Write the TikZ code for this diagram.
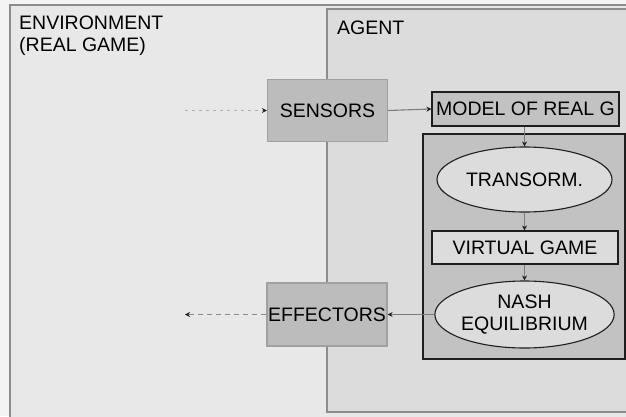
\documentclass[tikz,border=0pt]{standalone}
\usepackage{fontspec}
\setmainfont{Liberation Sans}
\usetikzlibrary{arrows.meta,shapes.geometric}

\definecolor{pagebg}{HTML}{F4F4F4}
\definecolor{envfill}{HTML}{E8E8E8}
\definecolor{agentfill}{HTML}{DCDCDC}
\definecolor{frameline}{HTML}{8C8C8C}
\definecolor{ioFill}{HTML}{BCBCBC}
\definecolor{ioLine}{HTML}{A0A0A0}
\definecolor{coreFill}{HTML}{C2C2C2}
\definecolor{lightFill}{HTML}{DCDCDC}
\definecolor{darkLine}{HTML}{1E1E1E}
\definecolor{linkLine}{HTML}{7C7C7C}

\tikzset{
  x=1pt, y=-1pt,
  every node/.style={font=\fontsize{19.5}{22}\selectfont, text=black, inner sep=0pt},
  iobox/.style={draw=ioLine, line width=1.2pt, fill=ioFill, minimum width=120pt, minimum height=62pt},
  framebox/.style={draw=darkLine, line width=1.2pt, fill=coreFill},
  litebox/.style={draw=darkLine, line width=1.1pt, fill=lightFill, minimum width=186pt, minimum height=33pt},
  oval/.style={ellipse, draw=darkLine, line width=1.1pt, fill=lightFill, minimum width=175pt, align=center},
  dottip/.style={-{Stealth[length=5pt,width=5pt,color=darkLine]}},
  link/.style={draw=linkLine, line width=1.1pt, dottip},
  inlink/.style={draw=ioLine!85!white, line width=1.1pt, dash pattern=on 3pt off 4pt, dottip},
  outlink/.style={draw=linkLine!90!white, line width=1.2pt, dash pattern=on 5pt off 4pt, dottip}
}

\begin{document}
\begin{tikzpicture}
  \useasboundingbox (0,0) rectangle (626,416);
  \fill[pagebg] (0,0) rectangle (626,416);

  % environment and agent panels
  \draw[fill=envfill, draw=frameline, line width=1.5pt] (10,5) rectangle (650,440);
  \draw[fill=agentfill, draw=frameline, line width=1.5pt] (327,9) rectangle (650,412);

  \node[anchor=north west, align=left] (envlabel) at (19,16) {ENVIRONMENT\\(REAL GAME)};
  \node[anchor=north west] (agentlabel) at (337,20.5) {AGENT};

  % sensing and acting units
  \node[iobox] (sensors) at (327.5,110.5) {SENSORS};
  \node[iobox, minimum height=63pt] (effectors) at (327,314.5) {EFFECTORS};

  % internal model of the game
  \node[framebox, minimum width=187pt, minimum height=34pt] (model) at (525.5,109) {MODEL OF REAL G};

  % reasoning block
  \draw[framebox] (423,134) rectangle (625,359);
  \node[oval, minimum height=65pt] (transorm) at (524.5,179.5) {TRANSORM.};
  \node[litebox] (virtual) at (525,247.5) {VIRTUAL GAME};
  \node[oval, minimum height=67pt] (nash) at (524.5,314.5) {NASH\\EQUILIBRIUM};

  % signal flow
  \coordinate (percept) at (185,110.5);
  \coordinate (action) at (185,314.5);
  \draw[inlink] (percept) -- (sensors.west);
  \draw[link] (sensors.east) -- (model.west);
  \draw[link] (model.south -| transorm.north) -- (transorm.north);
  \draw[link] (transorm.south) -- (virtual.north -| transorm.south);
  \draw[link] (virtual.south -| nash.north) -- (nash.north);
  \draw[link] (nash.west) -- (effectors.east);
  \draw[outlink] (effectors.west) -- (action);
\end{tikzpicture}
\end{document}
